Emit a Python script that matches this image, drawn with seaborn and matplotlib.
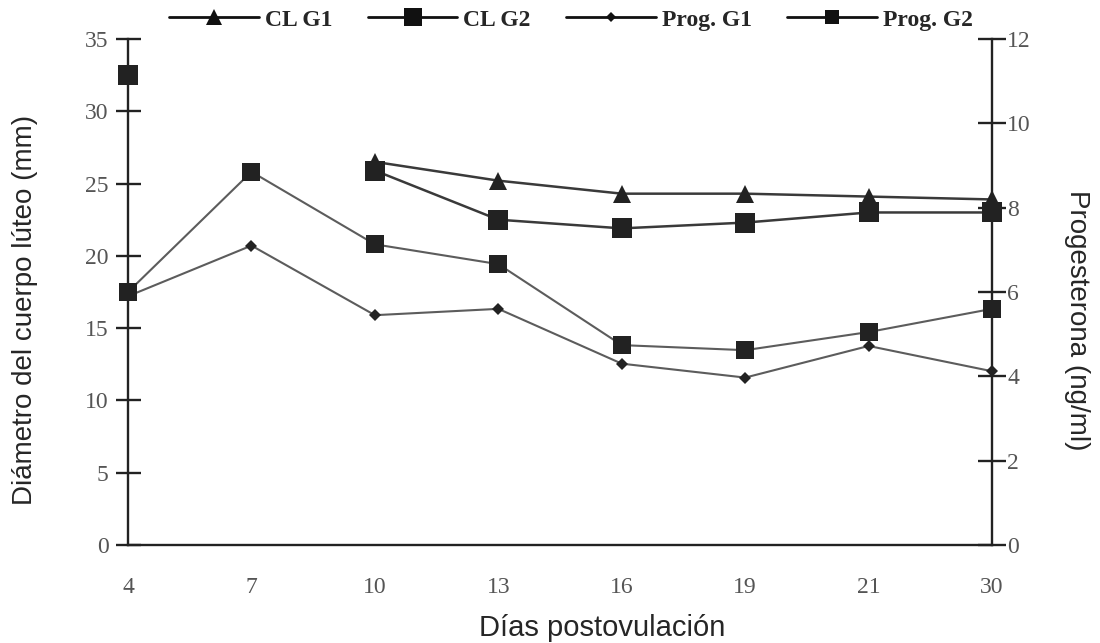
import matplotlib.pyplot as plt
import seaborn as sns
import numpy as np
import pandas as pd
from matplotlib.lines import Line2D

# Values
days = ['4', '7', '10', '13', '16', '19', '21', '30']
cl_g1 = [np.nan, np.nan, 26.5, 25.2, 24.3, 24.3, 24.1, 23.9]     # mm
cl_g2 = [32.5, np.nan, 25.9, 22.5, 21.9, 22.3, 23.0, 23.0]       # mm
prog_g1 = [5.9, 7.1, 5.45, 5.6, 4.3, 3.97, 4.72, 4.12]           # ng/ml
prog_g2 = [6.0, 8.85, 7.13, 6.66, 4.74, 4.62, 5.05, 5.6]         # ng/ml
labels = ['CL G1', 'CL G2', 'Prog. G1', 'Prog. G2']


def as_frame(values):
    # a gap (NaN) starts a new segment so the line is broken there
    df = pd.DataFrame({'pos': np.arange(len(days)), 'val': values})
    df['seg'] = df['val'].isna().cumsum()
    return df.dropna()


sns.set_style('ticks')
plt.rcParams['font.family'] = ['Liberation Serif', 'DejaVu Serif']

fig = plt.figure(figsize=(11, 6.43), dpi=100)
ax = fig.add_axes([0.1164, 0.1524, 0.7855, 0.787])
ax2 = ax.twinx()

styles = [
    dict(marker='^', markersize=13, color='#3a3a3a', linewidth=1.8),
    dict(marker='s', markersize=14.5, color='#3a3a3a', linewidth=1.8),
    dict(marker='D', markersize=6.5, color='#5c5c5c', linewidth=1.5),
    dict(marker='s', markersize=12.5, color='#5c5c5c', linewidth=1.5),
]
series = [(cl_g1, ax), (cl_g2, ax), (prog_g1, ax2), (prog_g2, ax2)]

for (vals, a), st in zip(series, styles):
    sns.lineplot(data=as_frame(vals), x='pos', y='val', units='seg',
                 estimator=None, ax=a, markeredgewidth=0,
                 markerfacecolor='#222222', clip_on=False, **st)

ax.set_xlim(0, len(days) - 1)
ax.set_xticks(np.arange(len(days)), days)
ax.set_ylim(0, 35)
ax.set_yticks(np.arange(0, 36, 5))
ax2.set_ylim(0, 12)
ax2.set_yticks(np.arange(0, 13, 2))
for a in (ax, ax2):
    a.set_xlabel('')
    a.set_ylabel('')

for s in ['top', 'right']:
    ax.spines[s].set_visible(False)
for s in ['top', 'left', 'bottom']:
    ax2.spines[s].set_visible(False)
for sp in [ax.spines['left'], ax.spines['bottom'], ax2.spines['right']]:
    sp.set_linewidth(1.7)
    sp.set_color('#222222')

ax.tick_params(axis='x', length=0, pad=23, labelsize=17, labelcolor='#555555')
ax.tick_params(axis='y', direction='inout', length=18, width=1.7, color='#222222',
               pad=5, labelsize=17, labelcolor='#555555')
ax2.tick_params(axis='y', direction='inout', length=20, width=1.7, color='#222222',
                pad=1, labelsize=17, labelcolor='#555555')

sans = ['Liberation Sans', 'DejaVu Sans']
fig.text(0.023, 1 - 310 / 643, 'Diámetro del cuerpo lúteo (mm)', rotation=90,
         ha='center', va='center', family=sans, fontsize=20)
fig.text(1077 / 1100, 1 - 320 / 643, 'Progesterona (ng/ml)', rotation=270,
         ha='center', va='center', family=sans, fontsize=20)
fig.text(602 / 1100, 1 - 636 / 643, 'Días postovulación', ha='center',
         va='baseline', family=sans, fontsize=21)

handles = [Line2D([], [], color='#111111', linewidth=2, marker=st['marker'],
                  markersize=st['markersize'] * 0.85, markeredgewidth=0)
           for st in styles]
fig.legend(handles, labels, loc='center', bbox_to_anchor=(0.519, 0.969), ncol=4,
           frameon=False, handlelength=3.8, handletextpad=0.25, columnspacing=1.5,
           prop={'family': 'Liberation Serif', 'weight': 'bold', 'size': 17})

fig.savefig('out.png', dpi=100)
